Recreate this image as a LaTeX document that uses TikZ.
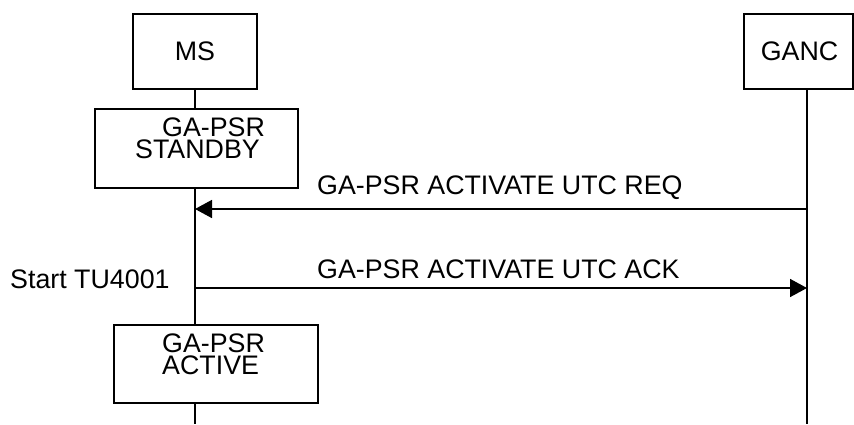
\documentclass[tikz,border=0pt]{standalone}
\usepackage{fontspec}
\setmainfont{Liberation Sans}
\usetikzlibrary{arrows.meta}
\begin{document}
\begin{tikzpicture}[x=1pt,y=-1pt,
  every node/.style={font=\fontsize{26.8}{22.5}\selectfont},
  box/.style={draw,line width=1.6pt,rectangle,inner sep=0pt,fill=white},
  txt/.style={inner sep=0pt,anchor=base west},
  multi/.style={inner sep=0pt,anchor=north west,align=left},
  life/.style={line width=1.8pt},
  msg/.style={line width=1.6pt,-{Triangle[length=17pt,width=18pt]}}]
\useasboundingbox (0,0) rectangle (854,424);
% entity boxes
\node[box,minimum width=124pt,minimum height=75pt] (ms) at (195,51.5) {MS};
\node[box,minimum width=109pt,minimum height=75pt] (ganc) at (798.5,51.5) {\hspace*{2pt}GANC};
% state boxes
\node[box,minimum width=203pt,minimum height=79pt] (standby) at (196.5,148.5) {};
\node[multi] (standbytext) at (135,117.5) {\hspace*{27pt}GA-PSR\\STANDBY};
\node[box,minimum width=204pt,minimum height=78pt] (active) at (216,364) {};
\node[multi] (activetext) at (162,333.5) {GA-PSR\\ACTIVE};
% lifeline coordinates
\coordinate (msbot) at (195,424);
\coordinate (gancbot) at (807,424);
\coordinate (reqS) at (807,209);
\coordinate (reqE) at (195,209);
\coordinate (ackS) at (195,288);
\coordinate (ackE) at (807,288);
% lifelines
\draw[life] (ms.south) -- (ms.south |- standby.north);
\draw[life] (ms.south |- standby.south) -- (ms.south |- active.north);
\draw[life] (ms.south |- active.south) -- (msbot);
\draw[life] (ganc.south -| gancbot) -- (gancbot);
% messages
\draw[msg] (reqS) -- (reqE);
\draw[msg] (ackS) -- (ackE);
\node[txt] (reqlabel) at (317,194) {GA-PSR ACTIVATE UTC REQ};
\node[txt] (acklabel) at (317,278) {GA-PSR ACTIVATE UTC ACK};
\node[txt] (timer) at (10,288) {Start TU4001};
\end{tikzpicture}
\end{document}
